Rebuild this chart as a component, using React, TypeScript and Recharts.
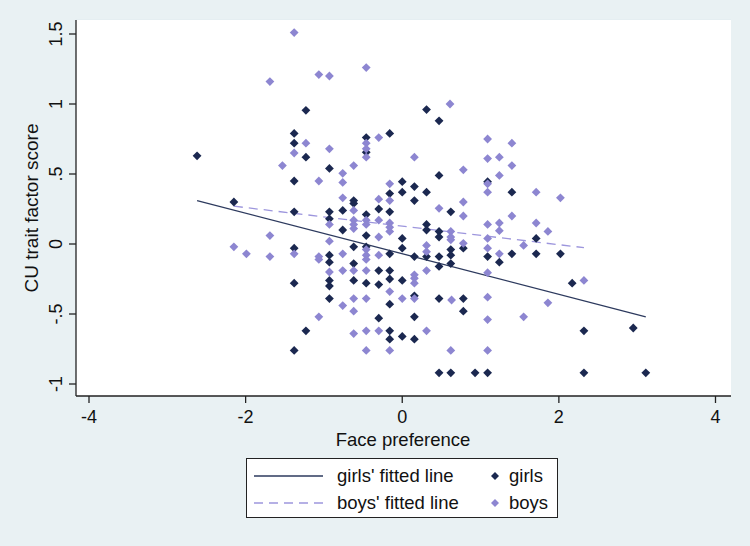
import React from 'react';
import { ScatterChart, Scatter, XAxis, YAxis, CartesianGrid } from 'recharts';

// scatter points: [face preference, CU trait factor score]
const girls: [number, number][] = [
  [-2.62, 0.63], [-2.15, 0.3],
  [-1.38, 0.79], [-1.38, 0.72], [-1.38, 0.45], [-1.38, 0.23], [-1.38, -0.03], [-1.38, -0.28], [-1.38, -0.76],
  [-1.23, 0.955], [-1.23, 0.62], [-1.23, -0.62],
  [-0.93, 0.54], [-0.93, 0.23], [-0.93, 0.18], [-0.93, -0.08], [-0.93, -0.13], [-0.93, -0.26], [-0.93, -0.3], [-0.93, -0.39],
  [-0.76, 0.24], [-0.76, 0.1],
  [-0.62, 0.31], [-0.62, 0.29], [-0.62, -0.02], [-0.62, -0.14], [-0.62, -0.26],
  [-0.46, 0.76], [-0.46, 0.655], [-0.46, 0.21], [-0.46, 0.06], [-0.46, -0.02], [-0.46, -0.28],
  [-0.3, 0.25], [-0.3, -0.19], [-0.3, -0.29], [-0.3, -0.53],
  [-0.16, 0.79], [-0.16, 0.36], [-0.16, 0.23], [-0.16, -0.07], [-0.16, -0.19], [-0.16, -0.25], [-0.16, -0.43], [-0.16, -0.62], [-0.16, -0.68],
  [0, 0.445], [0, 0.37], [0, 0.04], [0, -0.03], [0, -0.26], [0, -0.66],
  [0.155, 0.41], [0.155, 0.31], [0.155, -0.09], [0.155, -0.37], [0.155, -0.52], [0.155, -0.68],
  [0.31, 0.96], [0.31, 0.37], [0.31, 0.14], [0.31, 0.1], [0.31, -0.09],
  [0.47, 0.88], [0.47, 0.49], [0.47, 0.09], [0.47, 0.05], [0.47, -0.09], [0.47, -0.16], [0.47, -0.39], [0.47, -0.92],
  [0.62, 0.23], [0.62, -0.04], [0.62, -0.08], [0.62, -0.14], [0.62, -0.92],
  [0.78, -0.03], [0.78, -0.39], [0.78, -0.48],
  [0.93, -0.92],
  [1.09, 0.445], [1.09, -0.09], [1.09, -0.92],
  [1.24, -0.13],
  [1.4, 0.37], [1.4, -0.07],
  [1.71, 0.04], [1.71, -0.07],
  [2.02, -0.07],
  [2.17, -0.28],
  [2.32, -0.62], [2.32, -0.92],
  [2.95, -0.6],
  [3.11, -0.92],
];

const boys: [number, number][] = [
  [-2.15, -0.02], [-1.99, -0.07],
  [-1.69, 1.16], [-1.69, 0.06], [-1.69, -0.09],
  [-1.53, 0.56],
  [-1.38, 1.51], [-1.38, 0.65], [-1.38, -0.07],
  [-1.23, 0.72],
  [-1.065, 1.21], [-1.065, 0.45], [-1.065, -0.09], [-1.065, -0.11], [-1.065, -0.52],
  [-0.93, 1.2], [-0.93, 0.68], [-0.93, 0.14], [-0.93, 0.02], [-0.93, -0.2],
  [-0.76, 0.505], [-0.76, 0.44], [-0.76, 0.33], [-0.76, -0.07], [-0.76, -0.19], [-0.76, -0.44],
  [-0.62, 0.56], [-0.62, 0.24], [-0.62, 0.17], [-0.62, 0.14], [-0.62, 0.11], [-0.62, -0.19], [-0.62, -0.39], [-0.62, -0.48], [-0.62, -0.64],
  [-0.46, 1.26], [-0.46, 0.72], [-0.46, 0.68], [-0.46, 0.62], [-0.46, 0.17], [-0.46, 0.14], [-0.46, -0.04], [-0.46, -0.08], [-0.46, -0.11], [-0.46, -0.19], [-0.46, -0.39], [-0.46, -0.62], [-0.46, -0.76],
  [-0.3, 0.76], [-0.3, 0.32], [-0.3, 0.17], [-0.3, 0.05], [-0.3, -0.08], [-0.3, -0.62],
  [-0.16, 0.43], [-0.16, 0.31], [-0.16, 0.15], [-0.16, 0.12], [-0.16, 0.09], [-0.16, -0.34], [-0.16, -0.76],
  [0, -0.39],
  [0.155, 0.62], [0.155, -0.22], [0.155, -0.245], [0.155, -0.28], [0.155, -0.39],
  [0.31, -0.01], [0.31, -0.055], [0.31, -0.19], [0.31, -0.62],
  [0.47, 0.255],
  [0.61, 1.0], [0.62, 0.09], [0.62, 0.05], [0.62, 0.03], [0.63, -0.4], [0.62, -0.76],
  [0.78, 0.53], [0.78, 0.3], [0.78, 0.2], [0.78, 0.005],
  [1.09, 0.75], [1.09, 0.61], [1.09, 0.43], [1.09, 0.37], [1.09, 0.14], [1.09, 0.04], [1.09, -0.03], [1.09, -0.205], [1.09, -0.38], [1.09, -0.54], [1.09, -0.76],
  [1.24, 0.62], [1.24, 0.49], [1.24, 0.15], [1.24, 0.095], [1.24, -0.07],
  [1.4, 0.72], [1.4, 0.56], [1.4, 0.2],
  [1.55, -0.01], [1.55, -0.52],
  [1.71, 0.37], [1.71, 0.15],
  [1.86, 0.09], [1.86, -0.42],
  [2.02, 0.33],
  [2.32, -0.26],
];

// fitted line end points
const girlsFit: [number, number][] = [[-2.62, 0.31], [3.11, -0.52]];
const boysFit: [number, number][] = [[-2.15, 0.27], [2.32, -0.026]];

const xTicks = [-4, -2, 0, 2, 4];
const yTicks = [-1, -0.5, 0, 0.5, 1, 1.5];

const BG = '#e9f1f3';
const GIRL = '#1b2850';
const BOY = '#8d86d1';
const FONT = '"Liberation Sans", Arial, sans-serif';

const toPts = (arr: [number, number][]) => arr.map(([x, y]) => ({ x, y }));

const fmtY = (v: number) => {
  if (v === 0) return '0';
  const s = String(Math.abs(v)).replace(/^0/, '');
  return (v < 0 ? '-' : '') + s;
};

const Diamond = (color: string, r: number) => (props: any) => {
  const { cx, cy } = props;
  if (cx == null || cy == null) return <g />;
  return (
    <polygon
      points={`${cx},${cy - r} ${cx + r},${cy} ${cx},${cy + r} ${cx - r},${cy}`}
      fill={color}
    />
  );
};

const YTick = (props: any) => {
  const { y, payload } = props;
  const x = 62;
  return (
    <text x={x} y={y} transform={`rotate(-90, ${x}, ${y})`} textAnchor="middle"
      fontSize={18} fill="#111" fontFamily={FONT}>
      {fmtY(payload.value)}
    </text>
  );
};

const XTick = (props: any) => {
  const { x, payload } = props;
  return (
    <text x={x} y={423} textAnchor="middle" fontSize={18} fill="#111" fontFamily={FONT}>
      {payload.value}
    </text>
  );
};

const YLabel = () => (
  <text x={38} y={208} transform="rotate(-90, 38, 208)" textAnchor="middle"
    fontSize={19} fill="#111" fontFamily={FONT}>
    CU trait factor score
  </text>
);

const XLabel = () => (
  <text x={403} y={446} textAnchor="middle" fontSize={18.5} fill="#111" fontFamily={FONT}>
    Face preference
  </text>
);

const legendText: React.CSSProperties = {
  position: 'absolute', fontSize: 18.5, fontFamily: FONT, color: '#111', lineHeight: '20px', whiteSpace: 'nowrap',
};

export default function App() {
  return (
    <div style={{ position: 'absolute', left: 0, top: 0, width: 750, height: 546, background: BG }}>
      <ScatterChart width={750} height={546} margin={{ top: 20, right: 19, left: 0, bottom: 0 }}>
        <rect x={76} y={20} width={655} height={376} fill="#fff" />
        <CartesianGrid vertical={false} stroke="#e3edf0" strokeWidth={1.5} fill="#fff" />
        <XAxis type="number" dataKey="x" domain={[-4.166, 4.198]} ticks={xTicks} allowDataOverflow
          height={150} tickSize={7} tick={<XTick />} stroke="#222" axisLine={{ stroke: '#222', strokeWidth: 1.3 }}
          tickLine={{ stroke: '#222', strokeWidth: 1.3 }} label={XLabel} />
        <YAxis type="number" dataKey="y" domain={[-1.0857, 1.6]} ticks={yTicks} allowDataOverflow
          width={76} tickSize={7} tick={<YTick />} stroke="#222" axisLine={{ stroke: '#222', strokeWidth: 1.3 }}
          tickLine={{ stroke: '#222', strokeWidth: 1.3 }} label={YLabel} />
        <Scatter data={toPts(girlsFit)} line={{ stroke: '#2d3a5e', strokeWidth: 1.3 }}
          shape={() => <g />} isAnimationActive={false} legendType="none" />
        <Scatter data={toPts(boysFit)} line={{ stroke: '#9d96dd', strokeWidth: 1.3, strokeDasharray: '9 6' }}
          shape={() => <g />} isAnimationActive={false} legendType="none" />
        <Scatter data={toPts(girls)} shape={Diamond(GIRL, 4.4)} isAnimationActive={false} />
        <Scatter data={toPts(boys)} shape={Diamond(BOY, 4.4)} isAnimationActive={false} />
      </ScatterChart>

      <div style={{ position: 'absolute', left: 246, top: 458, width: 310, height: 58, border: '1.5px solid #222', background: '#fff' }}>
        <svg width={310} height={58} style={{ position: 'absolute', left: 0, top: 0 }}>
          <line x1={7} x2={76} y1={17} y2={17} stroke="#2d3a5e" strokeWidth={1.3} />
          <line x1={7} x2={76} y1={44} y2={44} stroke="#9d96dd" strokeWidth={1.3} strokeDasharray="9 6" />
          <polygon points="248,13 252,17 248,21 244,17" fill={GIRL} />
          <polygon points="248,40 252,44 248,48 244,44" fill={BOY} />
        </svg>
        <span style={{ ...legendText, left: 90, top: 7 }}>girls' fitted line</span>
        <span style={{ ...legendText, left: 90, top: 34 }}>boys' fitted line</span>
        <span style={{ ...legendText, left: 262, top: 7 }}>girls</span>
        <span style={{ ...legendText, left: 262, top: 34 }}>boys</span>
      </div>
    </div>
  );
}
